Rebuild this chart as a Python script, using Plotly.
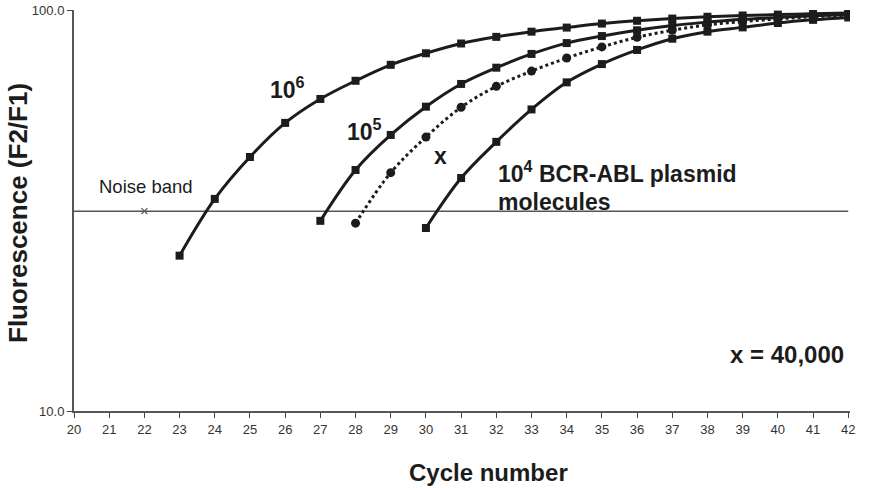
import math
import plotly.graph_objects as go

cycles_1e6 = list(range(23, 43))
fluor_1e6 = [24.4, 33.8, 43.0, 52.3, 60.0, 66.6, 73.0, 78.0, 82.5, 85.7,
             88.3, 90.4, 92.5, 94.0, 95.2, 96.2, 96.9, 97.4, 97.9, 98.3]

cycles_1e5 = list(range(27, 43))
fluor_1e5 = [29.8, 39.9, 48.8, 57.4, 65.4, 71.8, 77.7, 82.7, 86.1, 89.0,
             91.5, 93.3, 94.8, 95.8, 96.7, 97.4]

cycles_x = list(range(28, 43))
fluor_x = [29.4, 39.3, 48.2, 57.2, 64.5, 70.4, 75.9, 80.9, 85.5, 89.0,
           91.8, 93.5, 95.0, 96.2, 97.0]

cycles_1e4 = list(range(30, 43))
fluor_1e4 = [28.6, 38.1, 46.9, 56.5, 66.0, 73.3, 79.5, 84.8, 88.3, 90.5,
             92.8, 94.5, 95.8]

noise_x = [20, 42]
noise_level = 31.5
noise_mark_x = [22]

x_ticks = list(range(20, 43))
y_ticks = [10, 100]
y_ticktext = ["10.0", "100.0"]

FONT = "Liberation Sans, Arial, sans-serif"
INK = "#1c1c1c"

fig = go.Figure()

fig.add_trace(go.Scatter(x=noise_x, y=[noise_level] * 2, mode="lines",
                         line=dict(color="#555555", width=1.5),
                         hoverinfo="skip", showlegend=False))
fig.add_trace(go.Scatter(x=noise_mark_x, y=[noise_level], mode="markers",
                         marker=dict(symbol="x-thin", size=6,
                                     line=dict(color="#555555", width=1.2)),
                         showlegend=False))

for xs, ys in [(cycles_1e6, fluor_1e6), (cycles_1e5, fluor_1e5), (cycles_1e4, fluor_1e4)]:
    fig.add_trace(go.Scatter(x=xs, y=ys, mode="lines+markers",
                             line=dict(color=INK, width=3, shape="spline", smoothing=1),
                             marker=dict(symbol="square", size=8, color=INK),
                             showlegend=False))

fig.add_trace(go.Scatter(x=cycles_x, y=fluor_x, mode="lines+markers",
                         line=dict(color=INK, width=3, dash="dot", shape="spline", smoothing=1),
                         marker=dict(symbol="circle", size=9, color=INK),
                         showlegend=False))

ann_font = dict(family=FONT, size=23, color=INK)
annotations = [
    dict(x=26.07, y=63.9, text="<b>10<sup>6</sup></b>", font=ann_font),
    dict(x=28.26, y=50.2, text="<b>10<sup>5</sup></b>", font=ann_font),
    dict(x=30.41, y=43.2, text="<b>x</b>", font=ann_font),
    dict(x=31.98, y=39.5, text="<b>10<sup>4</sup> BCR-ABL plasmid</b>",
         xanchor="left", font=ann_font),
    dict(x=31.98, y=33.2, text="<b>molecules</b>", xanchor="left", font=ann_font),
    dict(x=40.27, y=13.8, text="<b>x = 40,000</b>",
         font=dict(family=FONT, size=24, color=INK)),
    dict(x=22.04, y=36.2, text="Noise band",
         font=dict(family=FONT, size=18.5, color=INK)),
]
for a in annotations:
    a["showarrow"] = False
    a["xref"] = "x"
    a["yref"] = "y"
    a["y"] = math.log10(a["y"])

# axis titles placed in paper coordinates
annotations += [
    dict(xref="paper", yref="paper", x=(18 - 74) / 776, y=(411 - 213) / 401,
         text="<b>Fluorescence (F2/F1)</b>", textangle=-90, showarrow=False,
         xanchor="center", yanchor="middle",
         font=dict(family=FONT, size=26, color=INK)),
    dict(xref="paper", yref="paper", x=(488 - 74) / 776, y=(411 - 473) / 401,
         text="<b>Cycle number</b>", showarrow=False,
         xanchor="center", yanchor="middle",
         font=dict(family=FONT, size=24, color=INK)),
]

fig.update_layout(
    width=872, height=488,
    margin=dict(l=74, r=22, t=10, b=77, autoexpand=False),
    paper_bgcolor="white", plot_bgcolor="white",
    annotations=annotations,
    xaxis=dict(range=[20, 42.05], tickvals=x_ticks, ticks="outside", ticklen=5,
               tickcolor="#444", showline=True, linecolor="#555", linewidth=2,
               showgrid=False, zeroline=False, automargin=False,
               tickfont=dict(family=FONT, size=13, color="#333")),
    yaxis=dict(type="log", range=[1, 2], tickvals=y_ticks, ticktext=y_ticktext,
               ticks="outside", ticklen=5, tickcolor="#444",
               showline=True, linecolor="#555", linewidth=2,
               showgrid=False, zeroline=False, automargin=False,
               tickfont=dict(family=FONT, size=13, color="#333")),
)

fig.write_html("out.html", config={"displayModeBar": False})

with open("out.html", "r", encoding="utf-8") as f:
    html = f.read()
html = html.replace("<head>", "<head><style>html,body{margin:0;padding:0;overflow:hidden;}</style>", 1)
with open("out.html", "w", encoding="utf-8") as f:
    f.write(html)
